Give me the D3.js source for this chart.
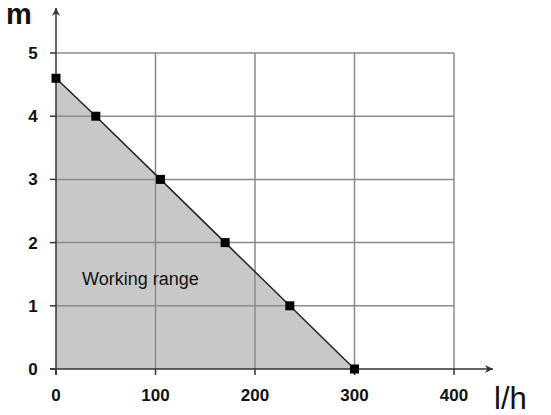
<!DOCTYPE html>
<html>
<head>
<meta charset="utf-8">
<script src="https://cdn.jsdelivr.net/npm/d3@7"></script>
<style>
  body { margin: 0; background: #fff; }
  text { font-family: "Liberation Sans", Arial, sans-serif; fill: #111; }
</style>
</head>
<body>
<svg id="chart" width="551" height="415"></svg>
<script>
// working range boundary (l/h, m)
var flow = [0, 40, 105, 170, 235, 300];
var head = [4.6, 4, 3, 2, 1, 0];
var xTicks = [0, 100, 200, 300, 400];
var yTicks = [0, 1, 2, 3, 4, 5];

var svg = d3.select('#chart');

var x = d3.scaleLinear().domain([0, 400]).range([56, 454]);
var y = d3.scaleLinear().domain([0, 5]).range([369, 53]);

var pts = flow.map(function(f, i) { return [f, head[i]]; });

// shaded area under the curve
var area = d3.area()
    .x(function(d) { return x(d[0]); })
    .y0(y(0))
    .y1(function(d) { return y(d[1]); });
svg.append('path').datum(pts)
    .attr('d', area)
    .attr('fill', '#c8c8c8');

// grid
svg.append('g').selectAll('line').data(yTicks.slice(1)).enter()
    .append('line')
    .attr('x1', x(0)).attr('x2', x(400))
    .attr('y1', function(d) { return y(d); })
    .attr('y2', function(d) { return y(d); })
    .attr('stroke', '#8a8a8a').attr('stroke-width', 1.5);
svg.append('g').selectAll('line').data(xTicks.slice(1)).enter()
    .append('line')
    .attr('x1', function(d) { return x(d); })
    .attr('x2', function(d) { return x(d); })
    .attr('y1', y(0)).attr('y2', y(5))
    .attr('stroke', '#8a8a8a').attr('stroke-width', 1.5);

// axes with arrows
var defs = svg.append('defs');
defs.append('marker')
    .attr('id', 'arrow')
    .attr('viewBox', '0 0 10 10')
    .attr('refX', 10).attr('refY', 5)
    .attr('markerWidth', 10).attr('markerHeight', 8)
    .attr('markerUnits', 'userSpaceOnUse')
    .attr('orient', 'auto')
    .append('path').attr('d', 'M0,0L10,5L0,10L3,5Z').attr('fill', '#333');

svg.append('line')
    .attr('x1', x(0) - 6).attr('x2', 493)
    .attr('y1', y(0)).attr('y2', y(0))
    .attr('stroke', '#333').attr('stroke-width', 1.5)
    .attr('marker-end', 'url(#arrow)');
svg.append('line')
    .attr('x1', x(0)).attr('x2', x(0))
    .attr('y1', y(0) + 6).attr('y2', 8)
    .attr('stroke', '#333').attr('stroke-width', 1.5)
    .attr('marker-end', 'url(#arrow)');

// tick marks
svg.append('g').selectAll('line').data(yTicks).enter()
    .append('line')
    .attr('x1', x(0) - 6).attr('x2', x(0))
    .attr('y1', function(d) { return y(d); })
    .attr('y2', function(d) { return y(d); })
    .attr('stroke', '#333').attr('stroke-width', 1.5);
svg.append('g').selectAll('line').data(xTicks).enter()
    .append('line')
    .attr('x1', function(d) { return x(d); })
    .attr('x2', function(d) { return x(d); })
    .attr('y1', y(0)).attr('y2', y(0) + 6)
    .attr('stroke', '#333').attr('stroke-width', 1.5);

// tick labels
svg.append('g').selectAll('text').data(yTicks).enter()
    .append('text')
    .attr('x', 33)
    .attr('y', function(d) { return y(d) + 6; })
    .attr('text-anchor', 'middle')
    .attr('font-size', 17).attr('font-weight', 'bold')
    .text(function(d) { return d; });
svg.append('g').selectAll('text').data(xTicks).enter()
    .append('text')
    .attr('x', function(d) { return x(d); })
    .attr('y', 401)
    .attr('text-anchor', 'middle')
    .attr('font-size', 17).attr('font-weight', 'bold')
    .text(function(d) { return d; });

// boundary line and markers
svg.append('path').datum(pts)
    .attr('d', d3.line()
        .x(function(d) { return x(d[0]); })
        .y(function(d) { return y(d[1]); }))
    .attr('fill', 'none')
    .attr('stroke', '#222').attr('stroke-width', 1.5);
svg.append('g').selectAll('rect').data(pts).enter()
    .append('rect')
    .attr('x', function(d) { return x(d[0]) - 4.5; })
    .attr('y', function(d) { return y(d[1]) - 4.5; })
    .attr('width', 9).attr('height', 9)
    .attr('fill', '#000');

// labels
svg.append('text')
    .attr('x', 82).attr('y', 285)
    .attr('font-size', 18)
    .text('Working range');
svg.append('text')
    .attr('x', 6).attr('y', 24)
    .attr('font-size', 29).attr('font-weight', 'bold')
    .text('m');
svg.append('text')
    .attr('x', 494).attr('y', 409)
    .attr('font-size', 31)
    .text('l/h');
</script>
</body>
</html>
